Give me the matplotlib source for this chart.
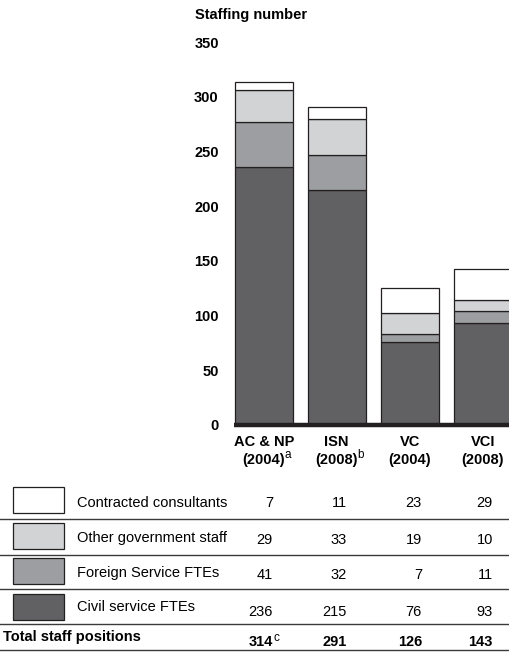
import matplotlib
matplotlib.use("Agg")
import matplotlib.pyplot as plt
from matplotlib.patches import Rectangle
from matplotlib.lines import Line2D

plt.rcParams['font.family'] = ['Liberation Sans', 'DejaVu Sans']

# ---- data ----
groups = ["AC & NP", "ISN", "VC", "VCI"]
years = ["(2004)", "(2008)", "(2004)", "(2008)"]
year_notes = ["a", "b", "", ""]
series_names = ["Contracted consultants", "Other government staff",
                "Foreign Service FTEs", "Civil service FTEs"]
civil = [236, 215, 76, 93]
foreign = [41, 32, 7, 11]
other = [29, 33, 19, 10]
contracted = [7, 11, 23, 29]
totals = [314, 291, 126, 143]
total_notes = ["c", "", "", ""]
yticks = [0, 50, 100, 150, 200, 250, 300, 350]

colors = {"Civil service FTEs": "#616163",
          "Foreign Service FTEs": "#9d9ea1",
          "Other government staff": "#d1d3d4",
          "Contracted consultants": "#ffffff"}
edge = "#231f20"
FS = 10.5
SUP = 8.5

W, H = 510, 652
fig = plt.figure(figsize=(W / 100, H / 100), dpi=100)

def fx(x):
    return x / W

def fy(y):
    return 1 - y / H

# axes: x from 234 px to 510 px, y from 425 px (0) to 42 px (350)
ax = fig.add_axes([fx(234), fy(425), fx(510 - 234), (425 - 42) / H])
ax.set_facecolor("none")
bw = 58 / 73
x = list(range(len(groups)))
bottom = [0] * len(groups)
stack = [("Civil service FTEs", civil), ("Foreign Service FTEs", foreign),
         ("Other government staff", other), ("Contracted consultants", contracted)]
for name, vals in stack:
    ax.bar(x, vals, width=bw, bottom=bottom, color=colors[name],
           edgecolor=edge, linewidth=0.9, zorder=2)
    bottom = [b + v for b, v in zip(bottom, vals)]

ax.set_xlim(-bw / 2 - 0.01, -bw / 2 - 0.01 + (510 - 234) / 73)
ax.set_ylim(0, 350)
for s in ax.spines.values():
    s.set_visible(False)
ax.axhline(0, color="#231f20", linewidth=3.2, zorder=3, clip_on=False,
           solid_capstyle="butt")
ax.set_xticks([])
ax.set_yticks(yticks)
ax.set_yticklabels([str(t) for t in yticks], fontweight="bold", fontsize=FS)
ax.tick_params(axis="y", length=0, pad=11)

fig.canvas.draw()
# x labels
for i, (g, yr, note) in enumerate(zip(groups, years, year_notes)):
    cx = 234 + (i + bw / 2 + 0.01) * 73
    fig.text(fx(cx), fy(442), g, ha="center", va="center",
             fontweight="bold", fontsize=FS)
    t = fig.text(fx(cx), fy(460), yr, ha="center", va="center",
                 fontweight="bold", fontsize=FS)
    if note:
        bb = t.get_window_extent(renderer=fig.canvas.get_renderer())
        fig.text((bb.x1 - 0.5) / W, fy(455), note, ha="left", va="center",
                 fontsize=SUP)

fig.text(fx(195), fy(15), "Staffing number", ha="left", va="center",
         fontweight="bold", fontsize=FS)

# ---- table ----
row_y_label = [503, 538, 573, 607]
row_y_val = [503, 540, 575, 612]
box_top = [487, 523, 558, 594]
col_right = [273, 347, 422, 493]
table_rows = [("Contracted consultants", contracted),
              ("Other government staff", other),
              ("Foreign Service FTEs", foreign),
              ("Civil service FTEs", civil)]
for r, (name, vals) in enumerate(table_rows):
    fig.patches.append(Rectangle((fx(13), fy(box_top[r] + 26)), fx(51), 26 / H,
                                 transform=fig.transFigure, facecolor=colors[name],
                                 edgecolor=edge, linewidth=0.9))
    fig.text(fx(77), fy(row_y_label[r]), name, ha="left", va="center", fontsize=FS)
    for c, v in enumerate(vals):
        fig.text(fx(col_right[c]), fy(row_y_val[r]), str(v), ha="right",
                 va="center", fontsize=FS)

fig.text(fx(3), fy(637), "Total staff positions", ha="left", va="center",
         fontweight="bold", fontsize=FS)
for c, (v, note) in enumerate(zip(totals, total_notes)):
    fig.text(fx(col_right[c]), fy(642), str(v), ha="right", va="center",
             fontweight="bold", fontsize=FS)
    if note:
        fig.text(fx(col_right[c] + 0.5), fy(638), note, ha="left", va="center",
                 fontsize=SUP)

for ly in [519, 555, 589, 624, 650]:
    fig.lines.append(Line2D([0, 1], [fy(ly), fy(ly)], transform=fig.transFigure,
                            color="#3a3a3a", linewidth=1.0))

fig.savefig("out.png", dpi=100)
